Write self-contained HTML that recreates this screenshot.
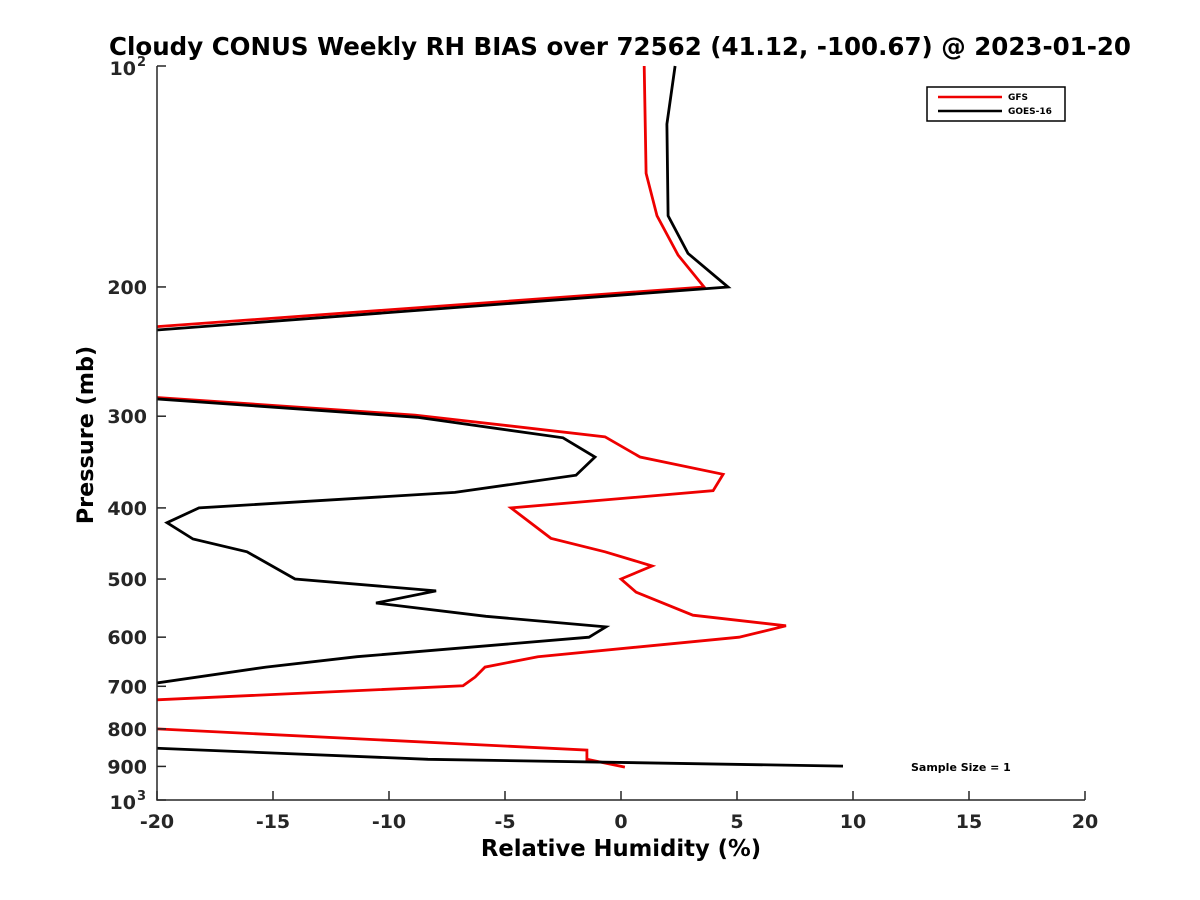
<!DOCTYPE html>
<html><head><meta charset="utf-8"><style>
html,body{margin:0;padding:0;background:#fff;}
svg{display:block;font-family:"DejaVu Sans","Liberation Sans",sans-serif;font-weight:bold;}
</style></head><body>
<svg id="chart" width="1200" height="900" viewBox="0 0 1200 900" xmlns="http://www.w3.org/2000/svg">
<rect width="1200" height="900" fill="#fff"/>
<text x="620" y="55" text-anchor="middle" font-size="24.5">Cloudy CONUS Weekly RH BIAS over 72562 (41.12, -100.67) @ 2023-01-20</text>
<defs><clipPath id="plotclip"><rect x="157" y="60" width="928" height="740"/></clipPath></defs>
<g id="marks" clip-path="url(#plotclip)"></g>
<g id="axes"></g>
<text x="621" y="856" text-anchor="middle" font-size="22.7">Relative Humidity (%)</text>
<text transform="translate(93,435) rotate(-90)" text-anchor="middle" font-size="22.3">Pressure (mb)</text>
<g>
<rect x="927" y="87" width="138" height="34" fill="#fff" stroke="#000" stroke-width="1.5"/>
<line x1="938" y1="97" x2="1002" y2="97" stroke="#e00" stroke-width="2.5"/>
<text x="1008" y="100" font-size="9">GFS</text>
<line x1="938" y1="111" x2="1002" y2="111" stroke="#000" stroke-width="2.5"/>
<text x="1008" y="114" font-size="9">GOES-16</text>
</g>
<text x="911" y="771" font-size="11">Sample Size = 1</text>
</svg>
<script>
const xTicks = [-20, -15, -10, -5, 0, 5, 10, 15, 20];
const yTicks = [200, 300, 400, 500, 600, 700, 800, 900];
const gfsP = [100, 140, 160, 181, 200, 254, 299, 320, 341, 360, 379, 400, 440, 459, 480, 500, 521, 560, 579, 600, 638, 659, 680, 699, 763, 855, 880, 902];
const gfsV = [1.0, 1.08, 1.55, 2.46, 3.58, -41.7, -8.88, -0.69, 0.82, 4.40, 3.97, -4.74, -3.02, -0.69, 1.34, 0.0, 0.65, 3.10, 7.11, 5.09, -3.58, -5.86, -6.29, -6.81, -33.2, -1.47, -1.47, 0.17];
const goesP = [100, 120, 160, 180, 200, 256, 301, 321, 341, 361, 381, 400, 419, 441, 459, 500, 519, 539, 562, 581, 600, 638, 659, 813, 880, 899];
const goesV = [2.33, 1.98, 2.03, 2.89, 4.61, -40.4, -8.79, -2.5, -1.12, -1.94, -7.16, -18.19, -19.57, -18.45, -16.12, -14.05, -7.97, -10.56, -5.82, -0.65, -1.38, -11.38, -15.30, -35.1, -8.32, 9.57];

const X0 = 157, X1 = 1085, Y0 = 66, Y1 = 800;
function xs(v){ return X0 + (v + 20) / 40 * (X1 - X0); }
function ys(p){ return Y0 + (Math.log10(p) - 2) * (Y1 - Y0); }
const NS = "http://www.w3.org/2000/svg";
function mk(tag, attrs){ const e = document.createElementNS(NS, tag); for (const k in attrs) e.setAttribute(k, attrs[k]); return e; }

const marks = document.getElementById('marks');
function line(P, V, color, name){
  const pts = P.map((p, i) => xs(V[i]).toFixed(1) + ',' + ys(p).toFixed(1)).join(' ');
  const pl = mk('polyline', {points: pts, fill: 'none', stroke: color, 'stroke-width': 2.8, 'stroke-linejoin': 'miter'});
  
  
  marks.appendChild(pl);
}
line(gfsP, gfsV, '#e00', 'gfs-line');
line(goesP, goesV, '#000', 'goes16-line');

const axes = document.getElementById('axes');
const ax = mk('path', {d: `M${X0},${Y0}V${Y1}H${X1}`, fill: 'none', stroke: '#262626', 'stroke-width': 1.5});


axes.appendChild(ax);

xTicks.forEach(v => {
  const x = xs(v);
  const t = mk('line', {x1: x, y1: Y1, x2: x, y2: Y1 - 9, stroke: '#262626', 'stroke-width': 1.5});
  
  
  axes.appendChild(t);
  const l = mk('text', {x: x, y: Y1 + 28, 'text-anchor': 'middle', 'font-size': 19, fill: '#262626'});
  l.textContent = v;
  
  
  axes.appendChild(l);
});
yTicks.concat([100, 1000]).forEach(p => {
  const y = ys(p);
  const t = mk('line', {x1: X0, y1: y, x2: X0 + 9, y2: y, stroke: '#262626', 'stroke-width': 1.5});
  
  
  axes.appendChild(t);
});
yTicks.forEach(p => {
  const l = mk('text', {x: X0 - 10, y: ys(p) + 7, 'text-anchor': 'end', 'font-size': 19, fill: '#262626'});
  l.textContent = p;
  
  
  axes.appendChild(l);
});
[[100, '2'], [1000, '3']].forEach(([p, e]) => {
  const l = mk('text', {x: X0 - 21, y: ys(p) + 9, 'text-anchor': 'end', 'font-size': 19, fill: '#262626'});
  l.textContent = '10';
  
  
  axes.appendChild(l);
  const s = mk('text', {x: X0 - 20, y: ys(p) + 0, 'font-size': 13, fill: '#262626'});
  s.textContent = e;
  
  
  axes.appendChild(s);
});
</script>
</body></html>
